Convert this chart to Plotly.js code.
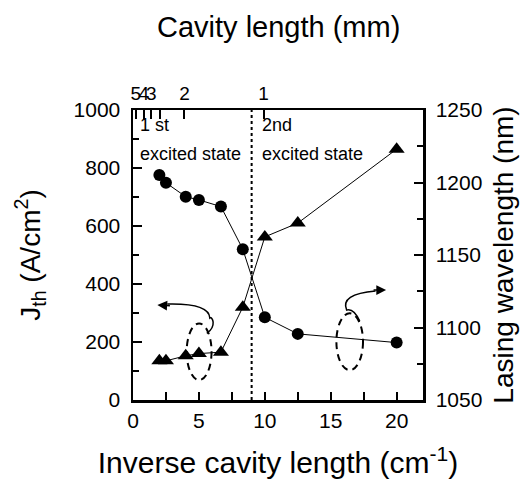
<!DOCTYPE html>
<html>
<head>
<meta charset="utf-8">
<script src="https://cdn.plot.ly/plotly-3.0.1.min.js"></script>
<style>html,body{margin:0;padding:0;background:#fff;}#chart{width:521px;height:482px;}</style>
</head>
<body>
<div id="chart"></div>
<script>
// Inverse cavity length (cm^-1)
var inverseLength = [2, 2.5, 4, 5, 6.67, 8.33, 10, 12.5, 20];
// Threshold current density (A/cm^2), left axis
var jth = [776, 749, 701, 690, 667, 520, 285, 228, 198];
// Lasing wavelength (nm), right axis
var wavelength = [1077, 1077, 1080.5, 1082, 1083, 1114, 1162.5, 1172, 1223];
// Bottom axis ticks (labelled every 5, unlabelled every 2.5)
var bottomTickPos = [0, 2.5, 5, 7.5, 10, 12.5, 15, 17.5, 20];
var bottomTickText = ['0', '', '5', '', '10', '', '15', '', '20'];
// Top axis (cavity length, mm) tick positions and labels
var topTickPos = [0.21, 0.82, 1.39, 2.05, 3.9, 9.9];
var topTickText = ['5', '4', '3', '', '2', '1'];

var FONT = 'Liberation Sans, Arial, Helvetica, sans-serif';

var traces = [
  {x: inverseLength, y: jth, xaxis: 'x', yaxis: 'y', mode: 'lines+markers',
   line: {color: '#000', width: 1}, marker: {symbol: 'circle', size: 12, color: '#000'}},
  {x: inverseLength, y: wavelength, xaxis: 'x2', yaxis: 'y2', mode: 'lines+markers',
   line: {color: '#000', width: 1}, marker: {symbol: 'triangle-up', size: 14, color: '#000'}}
];

var layout = {
  width: 521, height: 482,
  margin: {l: 133, r: 98, t: 110, b: 82},
  paper_bgcolor: '#fff', plot_bgcolor: 'rgba(0,0,0,0)',
  showlegend: false,
  font: {family: FONT, color: '#000'},
  xaxis: {
    range: [0, 22], tickmode: 'array', tickvals: bottomTickPos, ticktext: bottomTickText,
    showline: true, linecolor: '#000', linewidth: 2.5, mirror: true,
    ticks: 'inside', ticklen: 8, tickwidth: 2, tickcolor: '#000',
    showgrid: false, zeroline: false,
    tickfont: {family: FONT, size: 21, color: '#000'},
    title: {text: 'Inverse cavity length (cm<sup>-1</sup>)', font: {family: FONT, size: 30}, standoff: 22}
  },
  xaxis2: {
    overlaying: 'x', side: 'top', range: [0, 22], anchor: 'y2', tickangle: 0,
    showline: true, linecolor: '#000', linewidth: 2.5,
    ticks: 'inside', ticklen: 9, tickwidth: 2, tickcolor: '#000',
    showgrid: false, zeroline: false,
    tickmode: 'array', tickvals: topTickPos, ticktext: topTickText,
    tickfont: {family: FONT, size: 19, color: '#000'}
  },
  yaxis: {
    range: [0, 1000], dtick: 200, ticklabelstandoff: 6,
    showline: true, linecolor: '#000', linewidth: 2.5,
    ticks: 'inside', ticklen: 9, tickwidth: 2, tickcolor: '#000',
    showgrid: false, zeroline: false,
    tickfont: {family: FONT, size: 21, color: '#000'},
    minor: {ticks: 'inside', dtick: 100, ticklen: 6, tickwidth: 2, tickcolor: '#000'},
    title: {text: 'J<sub>th</sub> (A/cm<sup>2</sup>)', font: {family: FONT, size: 28}, standoff: 25}
  },
  yaxis2: {
    overlaying: 'y', side: 'right', anchor: 'x2', range: [1050, 1250], dtick: 50, ticklabelstandoff: 6,
    showline: true, linecolor: '#000', linewidth: 2.5,
    ticks: 'inside', ticklen: 9, tickwidth: 2, tickcolor: '#000',
    showgrid: false, zeroline: false,
    tickfont: {family: FONT, size: 21, color: '#000'},
    minor: {ticks: 'inside', dtick: 25, ticklen: 6, tickwidth: 2, tickcolor: '#000'},
    title: {text: 'Lasing wavelength (nm)', font: {family: FONT, size: 28}, standoff: 12}
  },
  shapes: [
    {type: 'line', xref: 'x', yref: 'paper', x0: 9, x1: 9, y0: 0, y1: 1,
     line: {color: '#000', width: 2, dash: 'dot'}},
    {type: 'circle', xref: 'x', yref: 'y', x0: 4.07, x1: 5.96, y0: 69, y1: 264,
     line: {color: '#000', width: 2, dash: '7px,5px'}},
    {type: 'circle', xref: 'x', yref: 'y', x0: 15.43, x1: 17.45, y0: 103, y1: 299,
     line: {color: '#000', width: 2, dash: '7px,5px'}},
    {type: 'path', xref: 'x', yref: 'y',
     path: 'M 5.6,230 C 6.4,255 6.0,290 5.83,283 Q 5.76,334.5 2.6,331',
     line: {color: '#000', width: 1.5}},
    {type: 'path', xref: 'x', yref: 'y',
     path: 'M 17.2,272 Q 16.74,317 16.21,310 Q 15.68,365 18.4,376',
     line: {color: '#000', width: 1.5}}
  ],
  annotations: [
    {x: 0.5, y: 1.286, xref: 'paper', yref: 'paper', text: 'Cavity length (mm)', showarrow: false,
     xanchor: 'center', yanchor: 'middle', font: {family: FONT, size: 29, color: '#000'}},
    {x: 1.85, y: 328, xref: 'x', yref: 'y', text: '', showarrow: true, arrowhead: 2,
     arrowsize: 1.3, arrowwidth: 1.5, arrowcolor: '#000', ax: 14, ay: 1},
    {x: 19.2, y: 379, xref: 'x', yref: 'y', text: '', showarrow: true, arrowhead: 2,
     arrowsize: 1.3, arrowwidth: 1.5, arrowcolor: '#000', ax: -14, ay: 0},
    {x: 0.4, y: 950, xref: 'x', yref: 'y', text: '1 st', showarrow: false, xanchor: 'left',
     font: {family: FONT, size: 18, color: '#000'}},
    {x: 0.4, y: 850, xref: 'x', yref: 'y', text: 'excited state', showarrow: false, xanchor: 'left',
     font: {family: FONT, size: 18, color: '#000'}},
    {x: 9.6, y: 950, xref: 'x', yref: 'y', text: '2nd', showarrow: false, xanchor: 'left',
     font: {family: FONT, size: 18, color: '#000'}},
    {x: 9.6, y: 850, xref: 'x', yref: 'y', text: 'excited state', showarrow: false, xanchor: 'left',
     font: {family: FONT, size: 18, color: '#000'}}
  ]
};

Plotly.newPlot('chart', traces, layout, {staticPlot: true, displayModeBar: false});
</script>
</body>
</html>
